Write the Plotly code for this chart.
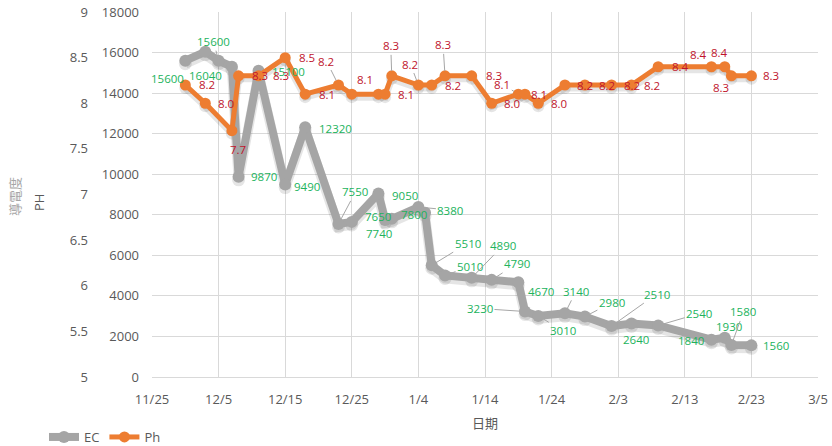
import plotly.graph_objects as go
import pandas as pd

# EC (conductivity) readings
ec_dates = ["11/30", "12/3", "12/5", "12/7", "12/8", "12/11", "12/15", "12/18",
            "12/23", "12/25", "12/29", "12/30", "12/31", "1/4", "1/5", "1/6",
            "1/8", "1/12", "1/15", "1/19", "1/20", "1/22", "1/26", "1/29",
            "2/2", "2/5", "2/9", "2/17", "2/19", "2/20", "2/23"]
ec_values = [15600, 16040, 15600, 15300, 9870, 15100, 9490, 12320,
             7550, 7650, 9050, 7740, 7800, 8380, 8100, 5510,
             5010, 4890, 4790, 4670, 3230, 3010, 3140, 2980,
             2510, 2640, 2540, 1840, 1930, 1580, 1560]

# pH readings
ph_dates = ["11/30", "12/3", "12/7", "12/8", "12/11", "12/15", "12/18", "12/23",
            "12/25", "12/29", "12/30", "12/31", "1/4", "1/6", "1/8", "1/12",
            "1/15", "1/19", "1/20", "1/22", "1/26", "1/29", "2/2", "2/5",
            "2/9", "2/17", "2/19", "2/20", "2/23"]
ph_values = [8.2, 8.0, 7.7, 8.3, 8.3, 8.5, 8.1, 8.2,
             8.1, 8.1, 8.1, 8.3, 8.2, 8.2, 8.3, 8.3,
             8.0, 8.1, 8.1, 8.0, 8.2, 8.2, 8.2, 8.2,
             8.4, 8.4, 8.4, 8.3, 8.3]

# which points carry a value label (label text comes from the values)
ec_labeled = [True, True, True, False, True, True, True, True,
              True, True, True, True, True, True, False, True,
              True, True, True, True, True, True, True, True,
              True, True, True, True, True, True, True]
ph_labeled = [True] * 9 + [False] + [True] * 19

# label placement: (dx, dy, leader line) in pixels from the marker
ec_label_pos = [(-18, 18, False), (0, 24, False), (-5, -19, True), None,
                (25, 0, False), (30, 1, False), (22, 2, False), (30, 1, False),
                (17, -32, True), (26, -5, False), (27, 2, False), (-6, 13, False),
                (22, -4, False), (32, 3, True), None, (36, -22, True),
                (25, -9, True), (31, -32, True), (25, -16, True), (23, 9, False),
                (-45, -3, True), (25, 15, True), (11, -22, True), (27, -14, True),
                (45, -32, True), (4, 16, False), (41, -12, True), (-20, 1, False),
                (4, -11, False), (12, -33, True), (25, 0, False)]
ph_label_pos = [(22, -1, False), (21, 0, False), (6, 19, False), (21, 0, False),
                (22, 0, False), (22, 0, False), (22, 0, False), (-12, -24, True),
                (13, -15, False), None, (21, 0, False), (-1, -30, True),
                (-8, -21, True), (21, 0, False), (-2, -31, True), (22, 0, False),
                (20, 0, False), (-16, -10, True), (14, 0, False), (21, 0, False),
                (20, 0, False), (22, 0, False), (20, 0, False), (20, 0, False),
                (22, 0, False), (-13, -12, False), (-5, -14, False), (-10, 12, False),
                (20, 0, False)]

# x-axis ticks every ten days
x_start, x_end = "11/25", "3/5"
ec_range = [0, 18000]
ph_range = [5, 9]


def to_date(md):
    m, d = map(int, md.split("/"))
    return pd.Timestamp(2022 if m >= 11 else 2023, m, d)


ec_x = [to_date(s) for s in ec_dates]
ph_x = [to_date(s) for s in ph_dates]
tick_dates = pd.date_range(to_date(x_start), to_date(x_end), freq="10D")
tick_text = [f"{t.month}/{t.day}" for t in tick_dates]

FONT = "Segoe UI, Open Sans, Noto Sans CJK SC, sans-serif"
GRID = "#d9d9d9"
TICK = "#595959"
EC_COLOR = "#a5a5a5"
PH_COLOR = "#ed7d31"
EC_LABEL = "#21b35c"
PH_LABEL = "#c0142c"
SHADOW = "rgba(0,0,0,0.10)"

W, H = 832, 446
ML, MR, MT, MB = 0, 14, 12, 69
pw = W - ML - MR
ph_ = H - MT - MB
plot_left = 152
SHADOW_DROP = 3  # px


def dropped(rng):
    # range shifted so that the drawn line sits a few pixels lower
    span = rng[1] - rng[0]
    d = span * SHADOW_DROP / ph_
    return [rng[0] + d, rng[1] + d]


fig = go.Figure()
# soft drop shadows under the two lines
fig.add_trace(go.Scatter(
    x=ec_x, y=ec_values, mode="lines+markers", showlegend=False, hoverinfo="skip",
    line=dict(color=SHADOW, width=10), marker=dict(color=SHADOW, size=13),
    yaxis="y3", cliponaxis=False,
))
fig.add_trace(go.Scatter(
    x=ph_x, y=ph_values, mode="lines+markers", showlegend=False, hoverinfo="skip",
    line=dict(color=SHADOW, width=7), marker=dict(color=SHADOW, size=12),
    yaxis="y4", cliponaxis=False,
))
fig.add_trace(go.Scatter(
    x=ec_x, y=ec_values, name="EC", mode="lines+markers",
    line=dict(color=EC_COLOR, width=8),
    marker=dict(color=EC_COLOR, size=12),
    yaxis="y5", cliponaxis=False,
))
fig.add_trace(go.Scatter(
    x=ph_x, y=ph_values, name="Ph", mode="lines+markers",
    line=dict(color=PH_COLOR, width=5),
    marker=dict(color=PH_COLOR, size=11),
    yaxis="y6", cliponaxis=False,
))

annotations = []


def add_labels(xs, ys, flags, places, yref, color, fmt):
    for x, y, show, place in zip(xs, ys, flags, places):
        if not show or place is None:
            continue
        dx, dy, leader = place
        base = dict(x=x, y=y, xref="x", yref=yref, text=fmt(y),
                    font=dict(family=FONT, size=11.5, color=color))
        if leader:
            base.update(showarrow=True, arrowhead=0, arrowwidth=1,
                        arrowcolor="#a6a6a6", ax=dx, ay=dy, standoff=5)
        else:
            base.update(showarrow=False, xshift=dx, yshift=-dy,
                        xanchor="center", yanchor="middle")
        annotations.append(base)


add_labels(ec_x, ec_values, ec_labeled, ec_label_pos, "y", EC_LABEL, lambda v: f"{v}")
add_labels(ph_x, ph_values, ph_labeled, ph_label_pos, "y2", PH_LABEL, lambda v: f"{v:.1f}")

annotations += [
    dict(text="日期", x=485 / pw, y=-46 / ph_, xref="paper", yref="paper",
         xanchor="center", yanchor="middle",
         showarrow=False, font=dict(family=FONT, size=13, color=TICK)),
    dict(text="導電度", x=15 / pw, y=(377 - 197) / ph_, xref="paper", yref="paper",
         xanchor="center", yanchor="middle",
         showarrow=False, textangle=-90, font=dict(family=FONT, size=13, color="#a6a6a6")),
    dict(text="PH", x=39 / pw, y=(377 - 203) / ph_, xref="paper", yref="paper",
         xanchor="center", yanchor="middle",
         showarrow=False, textangle=-90, font=dict(family=FONT, size=13, color=TICK)),
]

hidden = dict(overlaying="y", visible=False, showgrid=False, zeroline=False,
              automargin=False)

fig.update_layout(
    width=W, height=H,
    margin=dict(l=ML, r=MR, t=MT, b=MB, autoexpand=False),
    paper_bgcolor="white", plot_bgcolor="white",
    font=dict(family=FONT, size=13, color=TICK),
    xaxis=dict(
        domain=[plot_left / pw, 1],
        range=[to_date(x_start), to_date(x_end)],
        tickvals=list(tick_dates), ticktext=tick_text,
        showgrid=True, gridcolor=GRID, gridwidth=1,
        showline=True, linecolor=GRID, ticks="", ticklabelstandoff=10,
        zeroline=False, tickfont=dict(size=13, color=TICK), automargin=False,
    ),
    yaxis=dict(
        range=ec_range, dtick=2000, tick0=0, tickformat="d",
        showgrid=True, gridcolor=GRID, gridwidth=1,
        zeroline=False, showline=False, ticks="", ticklabelstandoff=12,
        tickfont=dict(size=13, color=TICK), automargin=False,
    ),
    yaxis2=dict(
        range=ph_range, dtick=0.5, tick0=5, overlaying="y", side="left",
        anchor="free", position=90 / pw,
        showgrid=False, zeroline=False, showline=False, ticks="",
        ticklabelstandoff=2, tickformat="~g", automargin=False,
        tickfont=dict(size=13, color=TICK),
    ),
    yaxis3=dict(range=dropped(ec_range), **hidden),
    yaxis4=dict(range=dropped(ph_range), **hidden),
    yaxis5=dict(range=ec_range, **hidden),
    yaxis6=dict(range=ph_range, **hidden),
    legend=dict(orientation="h", x=44 / pw, y=-60 / ph_, xanchor="left", yanchor="middle",
                font=dict(size=13, color=TICK), itemwidth=30,
                bgcolor="rgba(0,0,0,0)"),
    annotations=annotations,
    showlegend=True,
)

fig.write_html("out.html")
